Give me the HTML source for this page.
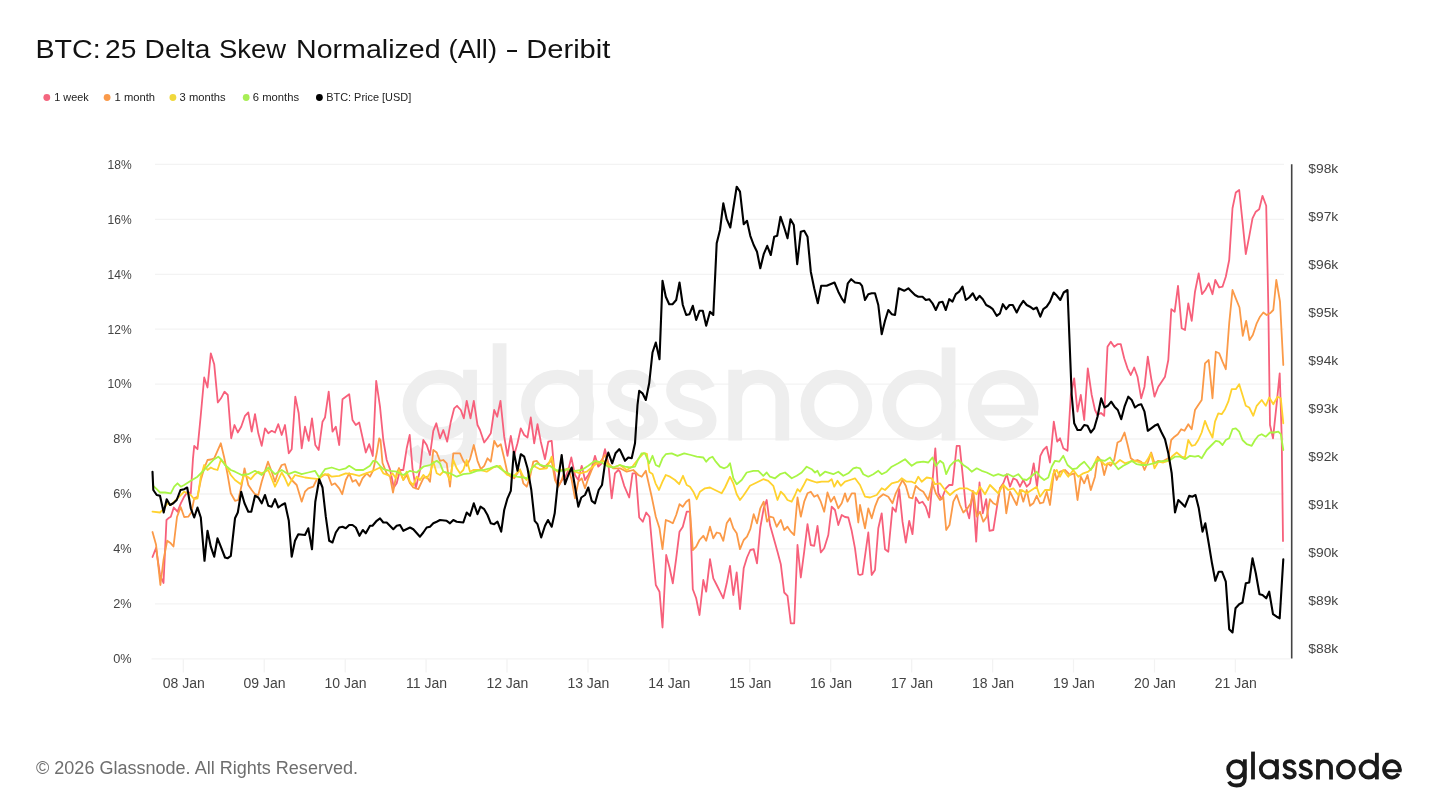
<!DOCTYPE html>
<html><head><meta charset="utf-8"><title>BTC: 25 Delta Skew Normalized (All) - Deribit</title>
<style>html,body{margin:0;padding:0;background:#fff;}body{width:1440px;height:810px;overflow:hidden;font-family:"Liberation Sans",sans-serif;}svg{display:block;will-change:transform;filter:blur(0.45px);}text{font-family:"Liberation Sans",sans-serif;}</style></head><body>
<svg width="1440" height="810" viewBox="0 0 1440 810">
<defs><g id="logo" fill="none" stroke-width="3.8" stroke-linecap="butt" stroke-linejoin="round">
<ellipse cx="10.1" cy="-10.1" rx="8.2" ry="8.2"/>
<path d="M18.6,-20.2 V-1.5 C18.6,3.8 15.2,6.1 10.3,6.1 C6.6,6.1 4,4.6 2.6,2.2"/>
<path d="M26.75,-27.8 V0"/>
<ellipse cx="42.75" cy="-10.1" rx="8.2" ry="8.2"/>
<path d="M50.55,-20.2 V0"/>
<path d="M68.15,-14.85 C67.34,-17.05 65.52,-18.30 63.20,-18.30 C60.37,-18.30 58.45,-16.63 58.45,-14.33 C58.45,-11.93 60.27,-10.99 63.30,-10.15 C66.53,-9.32 68.55,-8.17 68.55,-5.66 C68.55,-3.26 66.43,-1.90 63.40,-1.90 C60.57,-1.90 58.66,-3.26 57.85,-5.66"/>
<path d="M84.30,-14.85 C83.49,-17.05 81.67,-18.30 79.35,-18.30 C76.52,-18.30 74.60,-16.63 74.60,-14.33 C74.60,-11.93 76.42,-10.99 79.45,-10.15 C82.68,-9.32 84.70,-8.17 84.70,-5.66 C84.70,-3.26 82.58,-1.90 79.55,-1.90 C76.72,-1.90 74.80,-3.26 74.00,-5.66"/>
<path d="M91.75,0 V-20.2 M91.75,-11.8 A6.5,6.5 0 0 1 104.75,-11.8 V0"/>
<ellipse cx="119.65" cy="-10.1" rx="8.0" ry="8.2"/>
<ellipse cx="142.45" cy="-10.1" rx="8.2" ry="8.2"/>
<path d="M150.6,-26.6 V0"/>
<path d="M173.43,-8.7 A7.85,8.2 0 1 0 172.4,-5.8"/>
<path d="M157.5,-8.7 H175.3" stroke-width="3.1"/>
</g></defs>
<rect width="1440" height="810" fill="#fff"/>
<text x="35.4" y="57.7" font-size="25.3" fill="#111" textLength="65.2" lengthAdjust="spacingAndGlyphs">BTC:</text>
<text x="105" y="57.7" font-size="25.3" fill="#111" textLength="31.3" lengthAdjust="spacingAndGlyphs">25</text>
<text x="144.6" y="57.7" font-size="25.3" fill="#111" textLength="65.7" lengthAdjust="spacingAndGlyphs">Delta</text>
<text x="219.1" y="57.7" font-size="25.3" fill="#111" textLength="67" lengthAdjust="spacingAndGlyphs">Skew</text>
<text x="296" y="57.7" font-size="25.3" fill="#111" textLength="144.6" lengthAdjust="spacingAndGlyphs">Normalized</text>
<text x="448.6" y="57.7" font-size="25.3" fill="#111" textLength="48.4" lengthAdjust="spacingAndGlyphs">(All)</text>
<text x="505.2" y="57.7" font-size="25.3" fill="#111" textLength="13.6" lengthAdjust="spacingAndGlyphs">-</text>
<text x="526.2" y="57.7" font-size="25.3" fill="#111" textLength="84.2" lengthAdjust="spacingAndGlyphs">Deribit</text>
<circle cx="46.8" cy="97.5" r="3.4" fill="#F4667F"/>
<text x="54.3" y="101.3" font-size="10.8" fill="#222" textLength="34.4" lengthAdjust="spacingAndGlyphs">1 week</text>
<circle cx="107.1" cy="97.5" r="3.4" fill="#FA9A4A"/>
<text x="114.6" y="101.3" font-size="10.8" fill="#222" textLength="40.5" lengthAdjust="spacingAndGlyphs">1 month</text>
<circle cx="172.9" cy="97.5" r="3.4" fill="#F0D83C"/>
<text x="179.6" y="101.3" font-size="10.8" fill="#222" textLength="46" lengthAdjust="spacingAndGlyphs">3 months</text>
<circle cx="246.2" cy="97.5" r="3.4" fill="#A8EE55"/>
<text x="252.8" y="101.3" font-size="10.8" fill="#222" textLength="46.3" lengthAdjust="spacingAndGlyphs">6 months</text>
<circle cx="319.4" cy="97.5" r="3.4" fill="#000"/>
<text x="326.2" y="101.3" font-size="10.8" fill="#222" textLength="85" lengthAdjust="spacingAndGlyphs">BTC: Price [USD]</text>
<line x1="155" y1="164.4" x2="1284" y2="164.4" stroke="#f3f3f3" stroke-width="1.3"/>
<line x1="155" y1="219.3" x2="1284" y2="219.3" stroke="#f3f3f3" stroke-width="1.3"/>
<line x1="155" y1="274.3" x2="1284" y2="274.3" stroke="#f3f3f3" stroke-width="1.3"/>
<line x1="155" y1="329.2" x2="1284" y2="329.2" stroke="#f3f3f3" stroke-width="1.3"/>
<line x1="155" y1="384.1" x2="1284" y2="384.1" stroke="#f3f3f3" stroke-width="1.3"/>
<line x1="155" y1="439.0" x2="1284" y2="439.0" stroke="#f3f3f3" stroke-width="1.3"/>
<line x1="155" y1="494.0" x2="1284" y2="494.0" stroke="#f3f3f3" stroke-width="1.3"/>
<line x1="155" y1="548.9" x2="1284" y2="548.9" stroke="#f3f3f3" stroke-width="1.3"/>
<line x1="155" y1="603.8" x2="1284" y2="603.8" stroke="#f3f3f3" stroke-width="1.3"/>
<line x1="151.5" y1="658.8" x2="1290" y2="658.8" stroke="#f3f3f3" stroke-width="1.3"/>
<use href="#logo" transform="translate(402.6,440.5) scale(3.625,3.5)" stroke="#eeeeee"/>
<line x1="183.3" y1="659" x2="183.3" y2="672.5" stroke="#f3f3f3" stroke-width="1.3"/>
<line x1="264.2" y1="659" x2="264.2" y2="672.5" stroke="#f3f3f3" stroke-width="1.3"/>
<line x1="345.2" y1="659" x2="345.2" y2="672.5" stroke="#f3f3f3" stroke-width="1.3"/>
<line x1="426.1" y1="659" x2="426.1" y2="672.5" stroke="#f3f3f3" stroke-width="1.3"/>
<line x1="507.0" y1="659" x2="507.0" y2="672.5" stroke="#f3f3f3" stroke-width="1.3"/>
<line x1="588.0" y1="659" x2="588.0" y2="672.5" stroke="#f3f3f3" stroke-width="1.3"/>
<line x1="668.9" y1="659" x2="668.9" y2="672.5" stroke="#f3f3f3" stroke-width="1.3"/>
<line x1="749.8" y1="659" x2="749.8" y2="672.5" stroke="#f3f3f3" stroke-width="1.3"/>
<line x1="830.7" y1="659" x2="830.7" y2="672.5" stroke="#f3f3f3" stroke-width="1.3"/>
<line x1="911.7" y1="659" x2="911.7" y2="672.5" stroke="#f3f3f3" stroke-width="1.3"/>
<line x1="992.6" y1="659" x2="992.6" y2="672.5" stroke="#f3f3f3" stroke-width="1.3"/>
<line x1="1073.5" y1="659" x2="1073.5" y2="672.5" stroke="#f3f3f3" stroke-width="1.3"/>
<line x1="1154.5" y1="659" x2="1154.5" y2="672.5" stroke="#f3f3f3" stroke-width="1.3"/>
<line x1="1235.4" y1="659" x2="1235.4" y2="672.5" stroke="#f3f3f3" stroke-width="1.3"/>
<text transform="translate(131.7,168.7) scale(0.906,1)" font-size="13.3" fill="#444" text-anchor="end">18%</text>
<text transform="translate(131.7,223.6) scale(0.906,1)" font-size="13.3" fill="#444" text-anchor="end">16%</text>
<text transform="translate(131.7,278.6) scale(0.906,1)" font-size="13.3" fill="#444" text-anchor="end">14%</text>
<text transform="translate(131.7,333.5) scale(0.906,1)" font-size="13.3" fill="#444" text-anchor="end">12%</text>
<text transform="translate(131.7,388.4) scale(0.906,1)" font-size="13.3" fill="#444" text-anchor="end">10%</text>
<text transform="translate(131.7,443.3) scale(0.96,1)" font-size="13.3" fill="#444" text-anchor="end">8%</text>
<text transform="translate(131.7,498.3) scale(0.96,1)" font-size="13.3" fill="#444" text-anchor="end">6%</text>
<text transform="translate(131.7,553.2) scale(0.96,1)" font-size="13.3" fill="#444" text-anchor="end">4%</text>
<text transform="translate(131.7,608.1) scale(0.96,1)" font-size="13.3" fill="#444" text-anchor="end">2%</text>
<text transform="translate(131.7,663.1) scale(0.96,1)" font-size="13.3" fill="#444" text-anchor="end">0%</text>
<text x="1308.3" y="173.0" font-size="13.2" fill="#444" textLength="30" lengthAdjust="spacingAndGlyphs">$98k</text>
<text x="1308.3" y="221.0" font-size="13.2" fill="#444" textLength="30" lengthAdjust="spacingAndGlyphs">$97k</text>
<text x="1308.3" y="269.0" font-size="13.2" fill="#444" textLength="30" lengthAdjust="spacingAndGlyphs">$96k</text>
<text x="1308.3" y="317.1" font-size="13.2" fill="#444" textLength="30" lengthAdjust="spacingAndGlyphs">$95k</text>
<text x="1308.3" y="365.1" font-size="13.2" fill="#444" textLength="30" lengthAdjust="spacingAndGlyphs">$94k</text>
<text x="1308.3" y="413.1" font-size="13.2" fill="#444" textLength="30" lengthAdjust="spacingAndGlyphs">$93k</text>
<text x="1308.3" y="461.1" font-size="13.2" fill="#444" textLength="30" lengthAdjust="spacingAndGlyphs">$92k</text>
<text x="1308.3" y="509.1" font-size="13.2" fill="#444" textLength="30" lengthAdjust="spacingAndGlyphs">$91k</text>
<text x="1308.3" y="557.2" font-size="13.2" fill="#444" textLength="30" lengthAdjust="spacingAndGlyphs">$90k</text>
<text x="1308.3" y="605.2" font-size="13.2" fill="#444" textLength="30" lengthAdjust="spacingAndGlyphs">$89k</text>
<text x="1308.3" y="653.2" font-size="13.2" fill="#444" textLength="30" lengthAdjust="spacingAndGlyphs">$88k</text>
<text x="183.7" y="687.9" font-size="14" fill="#444" text-anchor="middle">08 Jan</text>
<text x="264.6" y="687.9" font-size="14" fill="#444" text-anchor="middle">09 Jan</text>
<text x="345.6" y="687.9" font-size="14" fill="#444" text-anchor="middle">10 Jan</text>
<text x="426.5" y="687.9" font-size="14" fill="#444" text-anchor="middle">11 Jan</text>
<text x="507.4" y="687.9" font-size="14" fill="#444" text-anchor="middle">12 Jan</text>
<text x="588.4" y="687.9" font-size="14" fill="#444" text-anchor="middle">13 Jan</text>
<text x="669.3" y="687.9" font-size="14" fill="#444" text-anchor="middle">14 Jan</text>
<text x="750.2" y="687.9" font-size="14" fill="#444" text-anchor="middle">15 Jan</text>
<text x="831.1" y="687.9" font-size="14" fill="#444" text-anchor="middle">16 Jan</text>
<text x="912.1" y="687.9" font-size="14" fill="#444" text-anchor="middle">17 Jan</text>
<text x="993.0" y="687.9" font-size="14" fill="#444" text-anchor="middle">18 Jan</text>
<text x="1073.9" y="687.9" font-size="14" fill="#444" text-anchor="middle">19 Jan</text>
<text x="1154.9" y="687.9" font-size="14" fill="#444" text-anchor="middle">20 Jan</text>
<text x="1235.8" y="687.9" font-size="14" fill="#444" text-anchor="middle">21 Jan</text>
<line x1="1291.7" y1="164.2" x2="1291.7" y2="658.6" stroke="#444" stroke-width="1.6"/>
<polyline fill="none" stroke="#F7607B" stroke-width="1.8" stroke-linejoin="round" stroke-linecap="round" points="152.5,557.0 156.0,548.0 160.0,575.0 163.5,583.0 166.5,520.0 168.3,518.3 170.8,516.7 173.8,507.5 177.5,511.7 180.8,503.3 184.2,496.7 187.5,491.7 190.8,493.3 193.0,458.3 194.2,446.0 197.5,449.2 200.8,415.0 204.2,377.5 207.5,387.5 210.8,353.3 214.2,364.2 217.8,402.5 221.0,398.3 224.5,391.7 227.8,395.0 231.2,438.3 234.5,425.0 237.8,432.5 241.2,426.7 245.0,415.8 248.3,412.5 251.7,431.7 255.0,414.2 258.3,433.3 261.7,445.8 265.0,428.3 268.3,433.3 271.7,430.8 275.0,432.5 278.3,424.2 281.7,435.0 285.0,425.0 288.8,453.3 291.7,449.2 295.3,396.7 298.7,413.3 301.7,448.3 305.0,426.7 308.7,440.8 312.0,418.3 315.3,445.0 318.7,450.0 322.5,421.7 325.0,417.5 328.7,391.7 332.5,431.7 335.8,426.7 339.2,445.0 342.5,399.2 349.2,394.2 352.5,420.0 355.8,425.0 359.2,422.5 365.8,452.5 369.2,444.2 372.8,456.0 376.2,380.8 380.0,406.7 383.3,440.0 386.7,460.0 390.0,469.2 393.8,487.5 396.7,483.3 400.0,470.0 403.3,470.0 406.7,448.3 409.7,435.0 412.5,468.3 415.8,488.3 420.0,470.0 423.3,440.0 426.7,445.0 430.0,455.0 433.3,430.8 436.3,423.3 440.0,438.3 443.3,430.0 447.2,441.7 450.8,421.7 454.2,408.3 457.0,405.8 460.8,410.0 463.8,418.3 466.7,400.8 470.5,418.3 473.8,400.8 477.5,425.0 480.0,430.0 484.2,442.5 487.5,438.3 490.8,433.3 494.2,410.0 497.2,416.7 500.5,400.8 504.2,436.7 507.5,455.8 510.8,435.8 514.2,455.0 517.5,443.3 520.8,428.3 524.2,435.0 527.5,437.5 530.8,417.5 534.2,443.3 537.5,424.2 540.8,441.7 545.0,459.2 548.3,441.7 551.7,440.8 554.2,470.0 555.8,480.0 559.0,485.0 562.0,480.0 565.0,478.0 568.3,470.0 571.3,457.5 575.0,475.0 578.3,480.0 581.7,465.8 585.0,480.0 588.3,475.0 591.7,468.3 595.0,455.8 598.3,466.7 601.7,463.3 605.0,449.2 608.3,463.3 611.7,498.3 615.0,473.3 618.3,470.0 620.0,471.7 624.2,485.8 629.2,497.5 632.5,473.3 635.8,473.3 639.2,517.5 642.8,521.7 646.2,512.5 649.5,516.7 652.5,550.0 655.8,585.0 659.5,591.7 662.5,627.5 666.2,555.0 669.5,567.5 672.8,583.3 676.2,558.3 679.5,531.7 682.8,526.7 686.7,511.7 690.0,511.7 692.8,589.2 696.2,598.3 699.5,615.0 703.3,580.0 706.2,591.7 710.0,559.2 713.3,578.3 716.7,585.0 720.0,591.7 723.3,598.3 726.7,583.3 730.0,565.8 733.3,595.0 736.7,572.5 740.0,609.2 743.7,568.3 747.0,557.5 750.3,550.0 753.7,549.2 757.0,563.3 760.3,527.5 763.7,508.3 766.7,500.0 770.0,525.0 773.3,536.7 777.5,551.7 780.8,564.2 784.2,592.5 787.5,595.8 790.8,623.3 794.2,623.3 797.5,545.0 800.8,577.5 804.2,551.7 807.5,524.2 810.8,545.0 814.2,545.8 817.5,525.8 820.8,552.5 824.2,548.3 828.3,535.0 831.7,506.7 835.0,510.0 838.3,525.0 841.7,515.0 845.0,517.0 848.3,517.5 851.7,530.8 855.0,548.3 858.3,574.2 860.0,575.0 862.5,574.2 868.3,532.5 871.7,575.0 875.0,570.0 878.3,528.3 881.7,513.3 885.0,549.2 888.3,551.7 892.5,507.5 895.8,511.7 899.2,489.2 902.5,521.7 905.8,542.5 909.2,520.8 912.5,534.2 915.8,497.5 919.2,503.3 922.5,501.7 925.8,506.7 929.2,517.5 932.5,481.7 935.3,448.3 938.3,493.3 941.7,499.2 945.8,488.3 949.2,485.0 952.5,485.0 956.7,445.8 959.7,445.8 962.5,473.3 965.8,506.7 969.2,518.3 972.8,490.8 976.2,541.7 979.5,482.5 982.8,513.3 986.2,499.2 989.5,530.8 993.3,530.0 996.7,508.3 1000.0,488.3 1003.3,483.3 1006.7,474.2 1010.0,486.7 1013.3,478.3 1016.7,480.0 1020.0,486.7 1023.3,480.0 1026.7,486.7 1030.0,483.3 1033.7,463.3 1037.0,486.7 1040.3,455.8 1043.3,450.0 1046.7,446.7 1050.0,462.5 1053.8,421.7 1057.2,441.7 1060.0,438.3 1063.3,448.3 1067.5,450.8 1070.8,395.0 1074.2,378.3 1077.5,411.7 1080.8,395.0 1084.2,420.0 1087.8,368.3 1091.7,395.0 1095.0,410.0 1097.5,415.0 1101.0,413.0 1104.2,415.8 1107.5,346.7 1110.8,341.7 1114.2,346.7 1117.5,344.2 1120.8,344.2 1124.2,358.3 1127.5,368.3 1130.8,375.0 1134.2,367.5 1137.5,376.7 1141.2,398.3 1144.5,386.7 1147.8,356.7 1151.2,378.3 1154.5,396.7 1158.3,386.7 1161.7,381.7 1165.0,376.7 1168.3,360.0 1171.3,309.2 1174.7,311.7 1178.0,285.8 1181.7,328.3 1185.0,330.0 1188.3,303.3 1191.7,320.8 1195.0,291.7 1198.7,273.3 1202.0,294.2 1205.3,290.0 1208.7,283.3 1212.5,294.2 1215.3,280.0 1219.2,287.5 1222.5,286.7 1225.8,276.7 1229.2,260.0 1232.5,208.3 1235.8,192.5 1239.2,190.0 1242.5,221.7 1245.8,254.2 1249.2,236.7 1252.5,218.3 1255.8,211.7 1259.2,209.2 1262.5,195.8 1266.2,205.8 1268.3,305.0 1270.0,425.0 1273.0,438.3 1276.7,403.3 1279.7,373.3 1281.7,436.7 1283.0,541.0"/>
<polyline fill="none" stroke="#FB9A48" stroke-width="1.8" stroke-linejoin="round" stroke-linecap="round" points="152.5,532.0 156.0,544.4 160.4,585.0 163.5,560.0 167.2,540.7 170.8,543.3 173.5,546.5 177.0,517.0 180.7,507.0 184.2,517.0 188.3,516.7 191.5,512.0 194.2,498.3 197.5,496.7 200.8,480.0 204.2,468.3 207.5,460.0 210.8,459.5 214.2,458.3 217.5,450.8 220.8,443.3 224.2,457.5 227.5,474.2 230.8,493.3 235.0,500.8 238.3,500.0 241.7,485.0 244.5,468.3 248.3,485.0 251.7,490.0 255.0,494.2 258.3,495.0 261.7,481.7 265.0,471.0 268.0,461.7 271.7,471.7 275.0,481.7 278.3,471.7 281.7,465.0 285.0,464.2 288.3,475.0 291.7,480.0 296.7,485.0 301.7,501.7 305.0,491.7 308.3,488.3 313.3,486.7 316.5,480.0 319.2,478.3 325.0,474.2 328.3,475.8 331.7,485.0 335.0,483.3 339.2,488.3 342.2,494.2 345.8,480.0 349.2,473.3 352.5,481.7 355.8,480.0 359.2,485.8 362.5,478.3 366.7,473.3 370.0,476.7 373.3,470.0 376.7,453.3 379.2,438.3 380.5,440.0 382.5,463.0 386.7,473.3 390.0,476.7 393.0,492.5 396.7,473.3 399.0,468.0 403.3,480.0 406.7,475.0 410.0,483.3 413.3,487.5 418.3,489.2 423.3,478.3 426.7,476.7 430.0,481.7 433.3,450.0 436.7,452.5 440.0,460.8 443.3,460.0 446.7,463.3 450.0,486.7 453.3,453.3 460.0,453.3 463.3,460.8 466.7,465.8 470.0,459.2 473.8,445.0 477.5,460.8 480.8,469.2 484.2,465.8 487.5,458.3 490.8,461.7 494.2,440.8 497.5,446.7 500.8,444.2 504.2,458.3 507.5,473.3 510.8,476.7 514.2,478.3 520.0,469.2 523.3,483.3 526.7,486.7 530.0,476.7 533.3,461.7 536.7,460.8 540.0,465.0 544.2,467.5 548.3,463.3 551.7,460.8 555.0,480.0 558.3,486.7 561.7,480.0 565.0,470.0 568.3,468.3 571.7,480.0 575.0,498.3 578.3,481.7 581.7,478.3 585.0,488.3 588.3,478.3 591.7,470.0 595.0,462.5 598.3,464.2 601.7,460.0 605.0,455.0 608.3,463.3 613.3,468.3 620.0,468.3 626.7,471.7 633.3,470.0 638.3,475.0 641.7,476.7 645.8,470.8 648.3,481.7 651.7,496.7 655.8,516.7 659.5,528.3 662.5,549.2 665.8,520.0 670.0,521.7 672.8,523.3 676.2,515.0 679.5,504.2 682.8,506.7 686.2,501.7 689.2,499.5 692.8,550.0 696.2,546.7 699.5,540.0 703.3,535.8 706.2,540.8 710.0,526.7 713.3,538.3 716.7,532.5 720.0,533.3 723.3,540.8 726.7,523.3 730.0,518.3 733.3,528.3 736.7,533.3 740.0,549.2 743.7,540.0 747.0,536.7 750.3,529.2 753.7,514.2 757.0,523.3 760.3,508.3 763.7,501.7 767.0,521.7 770.0,516.7 773.3,517.5 776.7,526.7 780.8,520.0 784.2,530.0 787.5,526.7 790.8,531.7 794.2,535.0 797.5,497.5 800.8,516.7 804.2,501.7 807.5,493.3 810.8,491.7 814.2,496.7 817.5,495.0 820.8,501.7 824.2,511.7 827.5,492.5 830.8,501.7 834.2,496.7 838.3,508.3 841.7,503.3 845.0,493.3 847.5,501.7 851.7,493.3 855.0,493.3 858.3,522.5 860.0,505.0 865.0,528.3 868.3,508.3 871.7,518.3 875.0,506.7 878.3,498.3 883.3,494.2 888.3,496.7 892.5,503.3 895.8,493.3 899.2,486.7 902.5,480.0 905.8,485.8 909.2,497.5 912.5,498.3 915.8,485.8 919.2,489.2 923.3,491.7 928.3,500.0 932.5,483.3 935.8,493.3 940.0,500.0 943.3,496.7 946.2,530.0 949.5,525.0 953.3,501.7 956.7,495.0 960.0,505.0 963.3,512.5 967.5,508.3 970.8,503.3 973.3,491.7 976.7,516.7 980.0,511.7 983.3,521.7 986.7,516.7 990.0,499.2 993.3,503.3 996.7,505.0 1000.0,488.3 1003.3,484.2 1006.3,513.3 1010.0,491.7 1013.3,498.3 1016.7,505.0 1020.0,490.0 1023.3,501.7 1026.7,490.0 1030.0,505.8 1033.3,503.3 1036.7,495.8 1040.0,503.3 1043.3,502.5 1046.7,491.7 1050.0,505.0 1054.2,470.0 1056.7,480.0 1060.0,471.7 1065.0,470.0 1070.0,475.0 1074.2,473.3 1077.5,500.0 1080.8,476.7 1084.2,483.3 1087.5,475.0 1090.8,490.0 1095.0,476.7 1097.8,456.7 1101.2,460.8 1104.2,475.0 1107.5,463.3 1110.8,465.8 1114.2,460.0 1117.5,442.5 1120.8,440.8 1124.5,432.5 1127.5,444.2 1130.8,458.3 1134.2,460.8 1137.5,460.0 1141.2,461.7 1144.5,470.0 1147.8,462.5 1151.2,452.5 1154.5,463.3 1158.3,460.8 1161.7,461.7 1165.0,460.0 1168.3,458.3 1171.2,440.0 1174.5,436.7 1177.8,434.2 1181.2,429.2 1184.5,430.8 1188.3,424.2 1191.7,429.2 1195.0,410.0 1198.3,405.0 1201.7,400.0 1205.0,363.3 1208.7,360.0 1212.5,398.3 1215.8,351.7 1219.2,353.3 1222.5,361.7 1225.8,369.2 1229.2,323.3 1232.5,290.0 1235.8,298.3 1239.5,307.5 1242.8,335.8 1246.2,320.8 1249.5,340.0 1252.8,335.0 1256.7,323.3 1260.0,316.7 1263.3,312.5 1266.7,315.0 1270.0,313.3 1273.3,310.0 1276.3,280.0 1280.0,301.7 1283.3,365.0"/>
<polyline fill="none" stroke="#FFD22E" stroke-width="1.8" stroke-linejoin="round" stroke-linecap="round" points="152.5,511.7 160.0,512.5 164.2,508.3 167.5,503.3 170.8,505.0 174.2,501.7 177.5,498.3 184.2,491.7 187.5,493.3 190.8,495.0 194.2,499.2 197.5,498.3 200.8,476.7 204.2,465.0 207.5,470.0 210.8,467.5 214.2,469.2 217.5,470.0 220.8,460.0 224.2,463.3 227.5,468.3 230.8,475.0 235.0,480.0 240.8,484.2 244.2,475.0 247.5,476.7 250.8,479.2 255.0,474.2 258.3,471.7 261.7,473.3 265.0,471.7 268.3,470.0 271.7,478.3 275.0,486.7 278.3,480.0 281.7,472.5 285.0,478.3 288.3,485.8 291.7,480.0 295.0,475.0 298.3,475.8 305.0,477.5 311.7,478.3 319.2,479.2 322.5,475.0 328.3,474.2 331.7,476.7 339.2,475.8 345.8,473.3 352.5,474.2 359.2,475.8 365.8,473.3 373.3,470.8 380.0,467.5 383.3,473.3 390.0,475.8 392.5,473.3 395.8,478.3 399.0,470.0 403.3,480.0 406.7,471.7 410.0,481.7 413.3,485.0 416.7,476.7 420.0,480.0 423.3,475.0 426.7,478.3 430.0,473.3 433.3,461.7 436.7,473.3 440.0,475.0 443.3,471.7 446.7,473.3 450.0,480.0 453.3,460.0 456.7,468.3 460.0,473.3 463.3,470.0 466.7,460.0 470.0,471.7 473.3,470.0 480.0,470.0 486.7,471.7 493.3,467.5 500.0,465.8 504.2,471.7 507.5,475.0 513.3,476.7 520.0,470.0 523.3,476.7 526.7,480.0 530.0,471.7 533.3,465.8 540.0,469.2 546.7,468.3 551.7,456.7 554.2,468.3 557.5,471.7 561.7,470.0 568.3,469.2 575.0,471.7 580.0,473.3 586.7,471.7 591.7,467.5 596.7,463.3 603.3,460.8 608.3,465.0 613.3,467.5 620.0,465.0 626.7,470.0 632.5,466.5 636.7,461.0 640.5,456.5 643.7,453.2 646.9,453.8 649.4,472.0 652.5,474.0 655.5,483.3 659.0,490.0 662.5,481.7 665.8,475.0 670.0,476.7 675.0,480.0 679.2,484.2 683.0,475.8 686.7,485.0 690.0,486.7 693.3,491.7 696.7,499.2 700.0,491.7 705.0,488.3 710.0,487.5 715.0,490.0 721.7,493.3 725.0,487.5 730.0,476.7 733.3,483.3 736.7,494.2 740.0,500.0 743.3,495.8 746.7,490.8 750.0,485.8 756.7,482.5 763.3,479.2 768.3,480.8 773.3,485.8 777.5,500.0 780.8,491.7 784.2,495.0 787.5,500.0 791.7,501.7 795.0,495.0 797.5,489.2 800.0,491.7 803.3,485.8 806.7,479.2 811.7,480.8 816.7,482.5 821.7,481.7 828.3,481.7 831.7,479.2 834.2,486.7 837.5,480.8 840.8,485.8 845.0,481.7 850.0,480.0 855.0,478.3 860.0,485.0 865.0,496.7 870.0,497.5 876.7,495.0 881.7,488.3 885.0,490.0 891.7,483.3 898.3,481.7 901.7,478.3 906.7,481.7 911.7,481.7 915.0,483.3 918.3,476.7 921.7,481.7 926.7,477.5 931.7,478.3 935.0,484.2 940.0,483.3 945.0,490.0 950.0,495.0 955.0,490.8 960.0,488.3 966.7,488.3 973.3,491.7 976.7,494.2 980.0,486.7 985.0,494.2 990.0,485.0 995.0,490.0 998.3,493.3 1003.3,485.0 1008.3,490.0 1013.3,488.3 1018.3,495.0 1021.7,490.0 1026.7,493.3 1031.7,490.0 1036.7,486.7 1040.0,496.7 1045.0,490.0 1050.0,490.0 1053.3,473.3 1056.7,470.0 1060.0,476.7 1063.3,470.0 1068.3,476.7 1073.3,470.0 1078.3,476.7 1083.3,473.3 1088.3,471.7 1093.3,466.7 1096.7,458.3 1100.0,460.0 1105.0,465.0 1110.0,462.5 1115.0,464.2 1120.0,460.0 1125.0,463.3 1130.0,461.7 1135.0,460.8 1140.0,462.5 1145.0,463.3 1148.3,458.3 1150.8,453.3 1154.5,468.3 1158.3,461.7 1163.3,462.5 1168.3,460.8 1171.7,456.7 1176.7,452.5 1181.7,456.7 1185.0,457.5 1188.3,440.0 1191.7,445.8 1195.0,445.0 1198.3,440.0 1201.7,432.5 1205.0,420.8 1208.3,429.2 1212.5,437.5 1215.0,421.7 1218.3,413.3 1221.7,414.2 1225.0,409.2 1228.3,401.7 1231.7,389.2 1235.8,389.2 1239.2,384.2 1242.5,395.0 1245.8,405.8 1249.2,407.5 1253.3,415.8 1256.7,405.8 1261.7,400.0 1265.8,405.8 1269.2,397.5 1273.3,404.2 1277.5,396.7 1280.8,398.3 1283.3,423.3"/>
<polyline fill="none" stroke="#A8F545" stroke-width="1.8" stroke-linejoin="round" stroke-linecap="round" points="153.3,485.8 156.7,489.2 160.0,492.5 165.0,492.5 170.8,493.3 174.2,486.7 177.5,483.3 180.8,486.7 184.2,485.0 190.8,480.8 197.5,476.7 204.2,470.0 210.0,463.3 214.2,459.2 218.3,456.7 221.7,460.0 225.0,465.0 230.8,470.0 235.0,471.7 241.7,475.0 248.3,474.2 255.0,470.8 261.7,475.0 268.3,467.5 275.0,474.2 281.7,470.0 288.3,474.2 295.0,471.7 301.7,474.2 308.3,472.5 315.0,470.8 319.2,477.5 325.0,469.2 331.7,467.5 339.2,470.0 345.8,468.3 349.2,465.8 355.8,470.0 363.3,470.0 370.0,465.8 373.3,460.8 376.7,461.7 380.0,465.8 383.3,469.2 390.0,470.8 396.7,471.7 403.3,475.0 410.0,470.8 416.7,472.5 423.3,466.7 430.0,465.0 436.7,460.8 440.0,463.3 443.3,471.7 450.0,473.3 456.7,476.7 463.3,474.2 470.0,473.3 476.7,470.8 483.3,470.0 490.0,468.3 496.7,465.8 503.3,470.8 510.0,474.2 516.7,476.7 523.3,477.5 527.5,478.3 531.7,468.3 536.7,463.3 543.3,465.8 550.0,465.8 555.0,470.0 561.7,470.8 568.3,469.2 575.0,470.8 581.7,470.0 588.3,465.8 595.0,460.8 601.7,462.5 608.3,466.7 613.3,467.5 620.0,465.0 625.0,466.7 630.0,467.5 635.0,466.7 638.3,459.2 641.7,453.3 645.0,453.3 649.2,463.3 652.5,455.8 655.8,465.0 659.2,466.7 662.5,458.3 665.8,454.2 671.7,453.3 677.5,455.8 684.2,453.3 690.8,455.0 696.7,456.7 703.3,457.5 706.2,461.7 709.2,458.3 712.5,456.7 715.8,461.7 720.0,466.7 724.2,468.3 727.5,466.7 730.0,463.3 733.3,478.3 736.7,484.2 741.7,480.0 746.7,472.5 753.3,470.8 758.3,470.8 763.3,475.8 766.7,472.5 770.0,476.7 775.0,478.3 780.0,474.2 785.0,472.5 791.7,478.3 796.7,475.8 801.7,472.5 806.7,466.7 811.7,469.2 815.0,472.5 817.5,470.8 820.0,475.8 825.0,471.7 833.3,474.2 838.3,471.7 843.3,475.8 848.3,473.3 853.3,468.3 856.7,467.5 860.0,468.3 863.3,474.2 868.3,476.7 873.3,474.2 878.3,470.8 881.7,474.2 886.7,471.7 891.7,466.7 898.3,463.3 905.0,459.2 908.3,462.5 911.7,465.8 916.7,462.5 923.3,461.7 928.3,462.5 932.5,457.5 935.8,465.8 940.0,460.8 943.3,463.3 946.2,474.2 950.0,465.8 954.2,461.7 958.3,460.0 963.3,465.0 968.3,468.3 971.7,471.7 976.7,468.3 981.7,470.8 986.7,472.5 993.3,475.8 998.3,474.2 1003.3,475.8 1008.3,474.2 1013.3,476.7 1018.3,474.2 1022.5,479.2 1026.7,480.0 1030.8,476.7 1036.7,471.7 1040.0,476.7 1044.2,480.0 1048.3,477.5 1051.7,466.7 1055.0,460.8 1059.2,461.7 1063.3,455.8 1067.5,465.0 1072.5,469.2 1076.7,468.3 1080.0,465.0 1084.2,461.7 1088.3,466.7 1090.8,470.0 1095.0,462.5 1100.0,460.0 1105.0,460.8 1110.0,457.5 1115.0,465.0 1118.3,469.2 1123.3,465.8 1128.3,463.3 1131.7,460.8 1136.7,464.2 1141.7,465.0 1146.7,465.0 1153.3,463.3 1158.3,461.7 1165.0,460.8 1170.0,460.0 1175.0,456.7 1180.0,456.7 1185.0,459.2 1190.0,455.8 1195.0,456.7 1198.3,455.8 1201.7,458.3 1206.7,450.0 1211.7,445.0 1215.8,440.8 1219.2,441.7 1222.5,445.0 1225.8,440.0 1229.2,438.3 1232.5,429.2 1235.8,428.3 1239.2,431.7 1242.5,440.0 1246.7,444.2 1251.7,445.8 1255.0,440.0 1258.3,435.8 1261.7,434.2 1265.8,436.7 1270.0,432.5 1274.2,432.5 1278.3,431.7 1280.8,434.2 1283.3,450.0"/>
<polyline fill="none" stroke="#000000" stroke-width="2.1" stroke-linejoin="round" stroke-linecap="round" points="152.5,471.7 153.3,490.0 156.7,495.0 160.0,495.8 163.7,512.5 166.7,499.2 170.0,505.0 173.3,503.3 176.7,500.0 180.5,490.0 184.2,489.2 187.2,487.5 190.8,508.3 194.2,517.5 197.5,507.5 200.8,517.5 204.5,560.8 207.5,530.8 210.8,546.7 214.2,556.7 217.5,538.3 220.8,546.7 225.0,557.5 227.5,558.3 230.8,555.8 235.0,518.3 237.8,512.5 241.2,491.7 244.5,503.3 248.3,511.7 251.3,511.7 255.0,495.8 258.3,497.5 261.7,503.3 265.0,495.0 268.3,505.8 271.7,506.7 275.0,499.2 278.3,507.5 281.7,505.0 285.0,503.3 288.8,520.8 291.7,556.7 295.0,540.8 298.3,534.2 305.0,535.0 308.3,528.3 312.0,549.2 315.3,501.7 319.2,479.2 322.5,487.5 325.8,516.7 329.2,540.8 332.5,542.5 335.8,532.5 339.2,527.5 342.5,526.7 345.8,528.3 349.2,525.0 352.5,525.0 355.8,527.5 359.5,535.8 362.8,530.0 365.8,533.3 370.0,525.8 372.5,525.8 376.7,520.8 380.0,518.3 383.3,522.5 386.7,522.5 393.3,529.2 396.7,525.8 400.0,525.0 403.3,530.8 410.0,527.5 413.3,529.2 420.0,536.7 423.3,532.5 426.7,527.5 430.0,526.7 433.3,523.3 436.7,521.7 440.0,520.0 446.7,520.8 450.0,523.3 453.3,520.0 456.7,521.7 463.3,522.5 466.7,512.5 470.0,515.8 473.8,503.3 477.5,514.2 480.5,506.7 484.2,509.2 487.5,515.0 490.8,523.3 494.2,524.2 497.5,521.7 501.2,531.7 504.2,510.0 507.5,498.3 510.8,490.8 513.8,451.7 517.5,470.8 520.8,454.2 524.2,456.7 527.5,468.3 531.3,490.0 534.7,520.8 537.5,524.2 541.2,537.5 545.0,525.8 548.0,520.0 551.7,526.7 554.7,513.3 558.3,478.3 561.7,455.0 565.0,484.2 568.3,475.0 571.7,467.5 575.0,486.7 578.3,506.7 581.3,497.5 585.0,495.0 588.3,487.5 591.7,500.8 595.0,503.3 598.7,490.0 602.0,485.0 605.0,463.3 608.3,452.5 612.2,463.3 615.5,453.3 619.2,449.2 620.0,450.0 625.0,460.8 628.3,457.5 631.7,458.3 635.0,443.3 637.5,405.0 639.2,390.8 642.5,393.3 645.8,400.0 649.2,383.3 652.5,352.5 655.8,342.5 659.5,359.2 662.5,280.8 665.8,296.7 669.2,304.2 672.5,304.2 676.2,300.0 679.5,282.5 682.8,305.0 686.2,315.0 689.5,314.2 692.8,305.8 696.2,320.0 699.5,310.8 702.8,310.8 706.2,325.8 710.0,311.7 713.3,315.0 716.7,243.3 720.0,230.0 723.3,203.3 726.7,219.2 730.3,227.5 736.7,186.7 740.0,191.7 743.7,224.2 747.0,220.8 750.3,235.8 753.7,245.0 757.0,251.7 760.3,268.3 763.7,254.2 767.2,245.8 770.8,255.0 774.2,236.7 777.2,235.8 780.5,216.7 784.2,227.5 787.5,238.3 790.5,219.2 793.8,225.0 797.2,264.2 800.8,231.7 804.2,230.8 807.5,236.7 810.8,271.7 814.2,288.3 817.8,303.3 821.2,285.8 826.7,285.8 834.5,282.5 838.3,291.7 841.7,298.3 844.5,302.5 847.8,283.3 851.2,279.2 855.0,282.5 860.0,283.3 862.0,285.8 865.0,300.0 868.3,294.2 871.7,293.3 875.0,293.3 878.3,305.0 881.7,334.2 885.0,320.8 888.3,310.0 891.7,314.2 895.0,315.0 898.7,288.3 904.2,290.8 908.3,288.3 911.7,291.7 915.0,295.0 918.3,296.7 922.5,296.7 925.8,300.0 929.2,299.2 932.5,303.3 935.8,310.0 939.2,302.5 942.5,301.7 945.8,310.0 949.2,299.2 952.5,301.7 955.8,294.2 959.2,291.7 962.5,286.7 965.8,300.0 969.2,297.5 972.8,293.3 976.2,300.0 979.5,295.8 982.8,299.2 986.2,305.0 989.5,306.7 992.8,309.2 996.7,315.8 1000.0,313.3 1002.8,304.2 1006.2,309.2 1009.5,305.0 1012.8,305.0 1016.7,312.5 1020.0,305.8 1023.3,300.8 1026.7,305.0 1030.0,306.7 1033.3,309.2 1036.7,307.5 1040.3,316.7 1043.3,309.2 1046.7,306.7 1050.0,301.7 1053.7,292.5 1057.0,295.8 1060.3,300.0 1063.7,292.5 1067.5,290.0 1071.7,395.0 1074.2,423.3 1077.5,430.0 1080.8,430.0 1084.2,425.0 1087.5,425.8 1090.8,432.5 1094.2,428.3 1097.5,416.7 1101.2,398.3 1104.5,407.5 1107.8,405.8 1111.2,401.7 1114.5,406.7 1117.8,410.0 1121.2,419.2 1124.5,406.7 1128.3,396.7 1131.7,400.0 1135.0,407.5 1138.3,405.0 1141.2,404.2 1144.5,411.7 1147.8,430.8 1151.2,428.3 1154.5,425.8 1157.8,424.2 1161.2,431.7 1165.0,439.2 1168.3,453.3 1171.7,473.3 1175.0,512.5 1178.3,500.0 1181.7,503.3 1185.0,506.7 1189.2,495.8 1192.5,496.7 1195.5,495.0 1198.8,508.3 1202.5,531.7 1205.3,523.3 1208.7,543.3 1212.0,563.3 1215.3,580.8 1218.7,571.7 1222.0,571.7 1225.8,581.7 1229.2,629.2 1232.5,632.5 1235.5,608.3 1239.2,604.2 1242.5,602.5 1245.8,583.3 1249.2,582.5 1252.5,558.3 1255.8,573.3 1259.5,594.2 1262.5,595.0 1266.2,598.3 1269.2,591.7 1273.0,614.2 1276.7,616.7 1279.7,618.3 1283.3,559.2"/>
<text x="36" y="774.2" font-size="18" fill="#6e6e6e" textLength="322" lengthAdjust="spacingAndGlyphs">© 2026 Glassnode. All Rights Reserved.</text>
<use href="#logo" transform="translate(1226.25,779.4)" stroke="#1a1a1a"/>
</svg></body></html>
